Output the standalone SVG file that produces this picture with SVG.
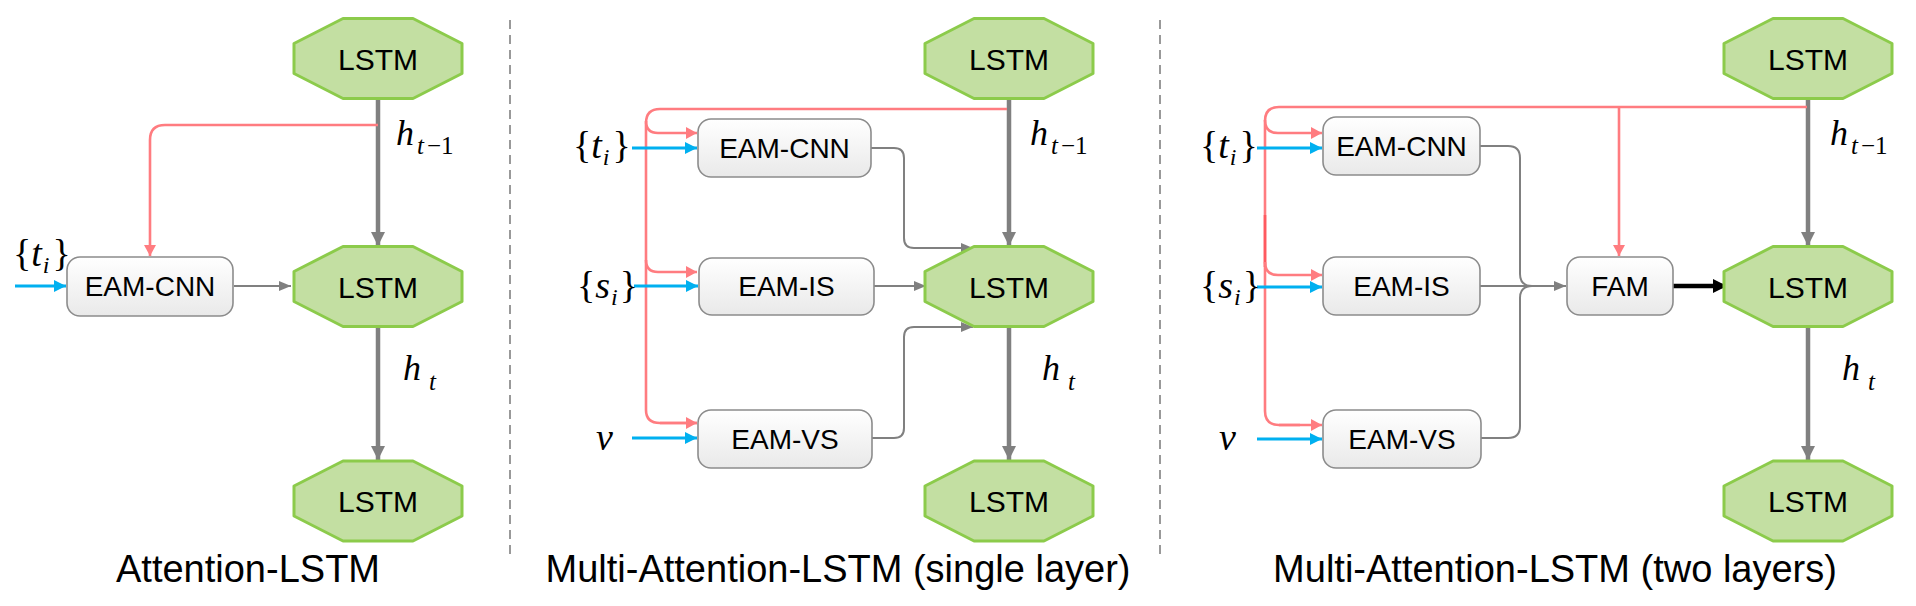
<svg xmlns="http://www.w3.org/2000/svg" width="1916" height="606" viewBox="0 0 1916 606">
<style>
.oct{fill:#C3DFA2;stroke:#8CCB4B;stroke-width:3;stroke-linejoin:round}
.box{fill:url(#bg);stroke:#8C8C8C;stroke-width:1.6}
.lbl{font-family:"Liberation Sans",Arial,sans-serif;font-size:28px;fill:#000;text-anchor:middle}
.lstm{font-family:"Liberation Sans",Arial,sans-serif;font-size:30px;fill:#000;text-anchor:middle}
.cap{font-family:"Liberation Sans",Arial,sans-serif;font-size:38px;fill:#000;text-anchor:middle}
.m{font-family:"Liberation Serif","Times New Roman",serif;font-size:38px;fill:#000}
.hh{font-family:"Liberation Serif","Times New Roman",serif;font-size:36px;fill:#000;font-style:italic}
.it{font-style:italic}
.thick{fill:none;stroke:#808080;stroke-width:4.5;marker-end:url(#ag)}
.thin{fill:none;stroke:#808080;stroke-width:2}
.thina{fill:none;stroke:#808080;stroke-width:2;marker-end:url(#agt)}
.red{fill:none;stroke:#FF7C80;stroke-width:2.6}
.reda{fill:none;stroke:#FF7C80;stroke-width:2.6;marker-end:url(#ar)}
.blue{fill:none;stroke:#00B0F0;stroke-width:3;marker-end:url(#ab)}
.black{fill:none;stroke:#000;stroke-width:4.5;marker-end:url(#ak)}
.dash{fill:none;stroke:#808080;stroke-width:1.6;stroke-dasharray:9 6}
</style>
<defs>
<linearGradient id="bg" x1="0" y1="0" x2="0" y2="1">
<stop offset="0" stop-color="#FFFFFF"/>
<stop offset="1" stop-color="#E9E9E9"/>
</linearGradient>
<marker id="ag" markerUnits="userSpaceOnUse" markerWidth="16" markerHeight="16" refX="14" refY="7" orient="auto"><path d="M0,0 L14,7 L0,14 z" fill="#808080"/></marker>
<marker id="agt" markerUnits="userSpaceOnUse" markerWidth="14" markerHeight="12" refX="12" refY="5" orient="auto"><path d="M0,0 L12,5 L0,10 z" fill="#808080"/></marker>
<marker id="ar" markerUnits="userSpaceOnUse" markerWidth="14" markerHeight="14" refX="11" refY="6" orient="auto"><path d="M0,0 L11,6 L0,12 z" fill="#FF7C80"/></marker>
<marker id="ab" markerUnits="userSpaceOnUse" markerWidth="14" markerHeight="14" refX="12" refY="6" orient="auto"><path d="M0,0 L12,6 L0,12 z" fill="#00B0F0"/></marker>
<marker id="ak" markerUnits="userSpaceOnUse" markerWidth="16" markerHeight="16" refX="14" refY="7" orient="auto"><path d="M0,0 L14,7 L0,14 z" fill="#000"/></marker>
<polygon id="octo" points="-35,-40 35,-40 84,-15 84,15 35,40 -35,40 -84,15 -84,-15"/>
</defs>

<!-- separators -->
<line class="dash" x1="510" y1="20" x2="510" y2="556"/>
<line class="dash" x1="1160" y1="20" x2="1160" y2="556"/>

<!-- connectors -->
<g id="connectors">
<!-- left panel -->
<path class="thick" d="M378,99 V246"/>
<path class="thick" d="M378,327 V460"/>
<path class="reda" d="M378,125 H165 Q150,125 150,140 V256"/>
<path class="blue" d="M15,286 H66"/>
<path class="thina" d="M234,286 H291"/>
<!-- middle panel -->
<path class="thick" d="M1009,99 V246"/>
<path class="thick" d="M1009,327 V460"/>
<path class="red" d="M1007,109 H660 Q646,109 646,123 V410 Q646,423 660,423 H697"/>
<path class="reda" d="M660,423 H697"/>
<path class="reda" d="M646,121 Q646,133 658,133 H697"/>
<path class="reda" d="M646,260 Q646,272 658,272 H697"/>
<path class="blue" d="M632,148 H697"/>
<path class="blue" d="M634,286 H698"/>
<path class="blue" d="M632,438 H697"/>
<path class="thina" d="M871,148 H894 Q904,148 904,158 V238 Q904,248 914,248 H973"/>
<path class="thina" d="M874,286 H926"/>
<path class="thina" d="M872,438 H894 Q904,438 904,428 V337 Q904,327 914,327 H973"/>
<!-- right panel -->
<path class="thick" d="M1808,99 V246"/>
<path class="thick" d="M1808,327 V460"/>
<path class="red" d="M1807,107 H1279 Q1265,107 1265,121 V411 Q1265,425 1279,425 H1300"/>
<path class="red" d="M1265,215 V267" style="stroke:#FF5A60"/>
<path class="reda" d="M1279,425 H1322"/>
<path class="reda" d="M1265,120 Q1265,133 1278,133 H1322"/>
<path class="reda" d="M1265,262 Q1265,275 1278,275 H1322"/>
<path class="reda" d="M1619,107 V256"/>
<path class="blue" d="M1257,148 H1322"/>
<path class="blue" d="M1257,287 H1322"/>
<path class="blue" d="M1257,439 H1322"/>
<path class="thin" d="M1480,146 H1508 Q1520,146 1520,158 V274 Q1520,286 1532,286"/>
<path class="thin" d="M1481,438 H1508 Q1520,438 1520,426 V298 Q1520,286 1532,286"/>
<path class="thina" d="M1480,286 H1566"/>
<path class="black" d="M1673,286 H1727"/>
</g>

<!-- LEFT PANEL -->
<g id="l-lstm-top"><use href="#octo" class="oct" x="378" y="58.5"/><text class="lstm" x="378" y="69.5">LSTM</text></g>
<g id="l-lstm-mid"><use href="#octo" class="oct" x="378" y="286.5"/><text class="lstm" x="378" y="297.5">LSTM</text></g>
<g id="l-lstm-bot"><use href="#octo" class="oct" x="378" y="501"/><text class="lstm" x="378" y="512">LSTM</text></g>
<g id="l-eamcnn"><rect class="box" x="67" y="257" width="166" height="59" rx="13"/><text class="lbl" x="150" y="296">EAM-CNN</text></g>
<g id="l-ti"><text class="m" x="13" y="266">{<tspan class="it">t</tspan><tspan class="it" font-size="24" dy="7" dx="1">i</tspan><tspan dy="-7" dx="3">}</tspan></text></g>
<g id="l-h1"><text class="hh" x="396" y="145">h<tspan font-size="25" dy="9" dx="3">t</tspan><tspan font-size="25" font-style="normal" dx="3">−1</tspan></text></g>
<g id="l-h2"><text class="hh" x="403" y="380">h<tspan font-size="25" dy="10" dx="8">t</tspan></text></g>
<text class="cap" x="248" y="582">Attention-LSTM</text>

<!-- MIDDLE PANEL -->
<g id="m-lstm-top"><use href="#octo" class="oct" x="1009" y="58.5"/><text class="lstm" x="1009" y="69.5">LSTM</text></g>
<g id="m-lstm-mid"><use href="#octo" class="oct" x="1009" y="286.5"/><text class="lstm" x="1009" y="297.5">LSTM</text></g>
<g id="m-lstm-bot"><use href="#octo" class="oct" x="1009" y="501"/><text class="lstm" x="1009" y="512">LSTM</text></g>
<g id="m-eamcnn"><rect class="box" x="698" y="119" width="173" height="58" rx="13"/><text class="lbl" x="784.5" y="158">EAM-CNN</text></g>
<g id="m-eamis"><rect class="box" x="699" y="258" width="175" height="57" rx="13"/><text class="lbl" x="786.5" y="296">EAM-IS</text></g>
<g id="m-eamvs"><rect class="box" x="698" y="410" width="174" height="58" rx="13"/><text class="lbl" x="785" y="449">EAM-VS</text></g>
<g id="m-ti"><text class="m" x="573" y="158">{<tspan class="it">t</tspan><tspan class="it" font-size="24" dy="7" dx="1">i</tspan><tspan dy="-7" dx="3">}</tspan></text></g>
<g id="m-si"><text class="m" x="577" y="298">{<tspan class="it">s</tspan><tspan class="it" font-size="24" dy="7" dx="1">i</tspan><tspan dy="-7" dx="2">}</tspan></text></g>
<g id="m-v"><text class="m it" x="596" y="450" font-size="46">v</text></g>
<g id="m-h1"><text class="hh" x="1030" y="145">h<tspan font-size="25" dy="9" dx="3">t</tspan><tspan font-size="25" font-style="normal" dx="3">−1</tspan></text></g>
<g id="m-h2"><text class="hh" x="1042" y="380">h<tspan font-size="25" dy="10" dx="8">t</tspan></text></g>
<text class="cap" x="838" y="582">Multi-Attention-LSTM (single layer)</text>

<!-- RIGHT PANEL -->
<g id="r-lstm-top"><use href="#octo" class="oct" x="1808" y="58.5"/><text class="lstm" x="1808" y="69.5">LSTM</text></g>
<g id="r-lstm-mid"><use href="#octo" class="oct" x="1808" y="286.5"/><text class="lstm" x="1808" y="297.5">LSTM</text></g>
<g id="r-lstm-bot"><use href="#octo" class="oct" x="1808" y="501"/><text class="lstm" x="1808" y="512">LSTM</text></g>
<g id="r-eamcnn"><rect class="box" x="1323" y="117" width="157" height="58" rx="13"/><text class="lbl" x="1401.5" y="156">EAM-CNN</text></g>
<g id="r-eamis"><rect class="box" x="1323" y="257" width="157" height="58" rx="13"/><text class="lbl" x="1401.5" y="296">EAM-IS</text></g>
<g id="r-eamvs"><rect class="box" x="1323" y="410" width="158" height="58" rx="13"/><text class="lbl" x="1402" y="449">EAM-VS</text></g>
<g id="r-fam"><rect class="box" x="1567" y="257" width="106" height="58" rx="13"/><text class="lbl" x="1620" y="296">FAM</text></g>
<g id="r-ti"><text class="m" x="1200" y="158">{<tspan class="it">t</tspan><tspan class="it" font-size="24" dy="7" dx="1">i</tspan><tspan dy="-7" dx="3">}</tspan></text></g>
<g id="r-si"><text class="m" x="1200" y="298">{<tspan class="it">s</tspan><tspan class="it" font-size="24" dy="7" dx="1">i</tspan><tspan dy="-7" dx="2">}</tspan></text></g>
<g id="r-v"><text class="m it" x="1219" y="450" font-size="46">v</text></g>
<g id="r-h1"><text class="hh" x="1830" y="145">h<tspan font-size="25" dy="9" dx="3">t</tspan><tspan font-size="25" font-style="normal" dx="3">−1</tspan></text></g>
<g id="r-h2"><text class="hh" x="1842" y="380">h<tspan font-size="25" dy="10" dx="8">t</tspan></text></g>
<text class="cap" x="1555" y="582">Multi-Attention-LSTM (two layers)</text>
</svg>
